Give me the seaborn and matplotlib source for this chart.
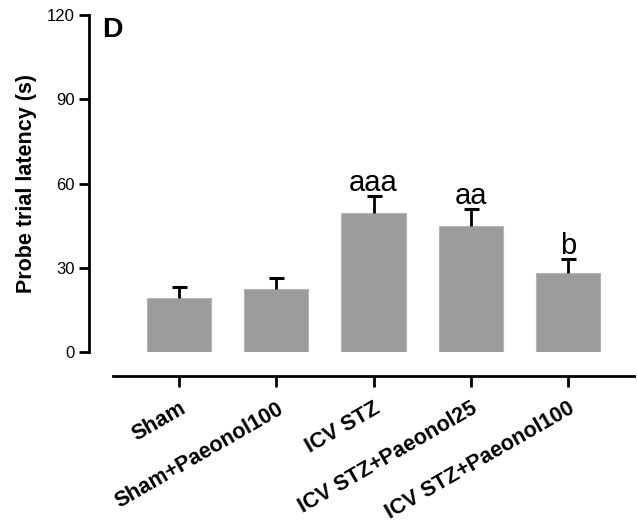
import matplotlib
matplotlib.use("Agg")
import matplotlib.pyplot as plt
import seaborn as sns
import numpy as np
import pandas as pd

groups = ["Sham", "Sham+Paeonol100", "ICV STZ", "ICV STZ+Paeonol25", "ICV STZ+Paeonol100"]
means = [19.3, 22.3, 49.4, 44.9, 28.2]
sem = [3.9, 4.0, 6.1, 6.0, 5.0]
sig_labels = ["", "", "aaa", "aa", "b"]
y_ticks = [0, 30, 60, 90, 120]

sns.set_style("ticks")
plt.rcParams["font.family"] = ["Liberation Sans", "DejaVu Sans"]
plt.rcParams["text.color"] = "black"
plt.rcParams["axes.labelcolor"] = "black"
plt.rcParams["xtick.color"] = "black"
plt.rcParams["ytick.color"] = "black"

df = pd.DataFrame({"group": groups, "mean": means})

fig = plt.figure(figsize=(6.37, 5.30), dpi=100)
ax = fig.add_axes([113 / 637, 1 - 352 / 530, (634 - 113) / 637, (352 - 15) / 530])

sns.barplot(data=df, x="group", y="mean", order=groups, color="#9c9c9c",
            saturation=1, width=0.66, errorbar=None, edgecolor="#b4b4b4",
            linewidth=0.8, ax=ax)

xpos = np.arange(len(groups))
tops = np.add(means, sem)
# upper-only error bars: stem plus a single cap at the top
ax.errorbar(xpos, means, yerr=[np.zeros(len(sem)), sem], fmt="none",
            ecolor="black", elinewidth=2.0, capsize=0, zorder=3)
ax.plot(xpos, tops, linestyle="none", marker="_", markersize=10.8,
        markeredgewidth=2.2, color="black", zorder=3)

for x, t, lab in zip(xpos, tops, sig_labels):
    if lab:
        ax.annotate(lab, xy=(x, t), xytext=(0, 3.5), textcoords="offset points",
                    ha="center", va="baseline", fontsize=21, color="black")

sns.despine(ax=ax, offset=17.3)
for side in ["left", "bottom"]:
    ax.spines[side].set_linewidth(2.0)
    ax.spines[side].set_color("black")

ax.set_xlim(-0.68, 4.68)
ax.set_ylim(0, 120)
ax.set_yticks(y_ticks)
ax.set_yticklabels([str(t) for t in y_ticks], fontsize=12, color="black")
ax.set_xlabel("")
ax.set_ylabel("Probe trial latency (s)", fontsize=15.5, fontweight="bold",
              labelpad=7, color="black")

ax.tick_params(axis="y", direction="out", length=7.2, width=2.0, pad=3, colors="black")
ax.tick_params(axis="x", direction="out", length=8, width=2.0, pad=8, colors="black")

ax.set_xticks(xpos)
ax.set_xticklabels(groups, rotation=30, ha="right", rotation_mode="anchor",
                   fontsize=15.5, fontweight="bold", color="black")

fig.text(102 / 637, 1 - 37 / 530, "D", fontsize=20.5, fontweight="bold", va="baseline",
         ha="left", color="black")

fig.savefig("out.png", dpi=100)
